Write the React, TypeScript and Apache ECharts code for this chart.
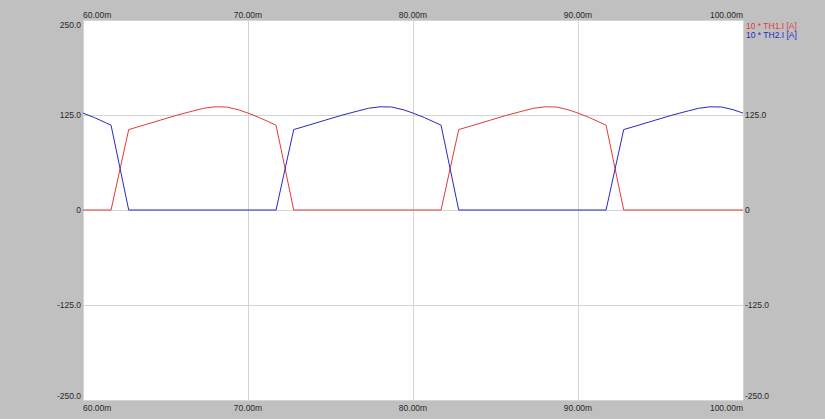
import React, { useEffect, useRef } from "react";
import * as echarts from "echarts";

// Time axis (ms) and tick range
const xTicks = [60, 70, 80, 90, 100];
const yTicks = [-250, -125, 0, 125, 250];

// 10 * TH1.I [A]
const timeTH1 = [
  60, 61.7, 62.77, 63.7, 64.7, 65.7, 66.7, 67.3, 68.0, 68.7, 69.4, 70.0, 70.7, 71.7, 72.77,
  81.7, 82.77, 83.7, 84.7, 85.7, 86.7, 87.3, 88.0, 88.7, 89.4, 90.0, 90.7, 91.7, 92.77, 100,
];
const valTH1 = [
  0, 0, 105.8, 111.8, 118.3, 124.8, 130.5, 133.8, 135.8, 135.5, 132.0, 127.5, 121.5, 111.6, 0,
  0, 105.8, 111.8, 118.3, 124.8, 130.5, 133.8, 135.8, 135.5, 132.0, 127.5, 121.5, 111.6, 0, 0,
];

// 10 * TH2.I [A]
const timeTH2 = [
  60, 60.7, 61.7, 62.77,
  71.7, 72.77, 73.7, 74.7, 75.7, 76.7, 77.3, 78.0, 78.7, 79.4, 80.0, 80.7, 81.7, 82.77,
  91.7, 92.77, 93.7, 94.7, 95.7, 96.7, 97.3, 98.0, 98.7, 99.4, 100,
];
const valTH2 = [
  127.5, 121.5, 111.6, 0,
  0, 105.8, 111.8, 118.3, 124.8, 130.5, 133.8, 135.8, 135.5, 132.0, 127.5, 121.5, 111.6, 0,
  0, 105.8, 111.8, 118.3, 124.8, 130.5, 133.8, 135.8, 135.5, 132.0, 127.5,
];

const seriesNames = ["10 * TH1.I [A]", "10 * TH2.I [A]"];
const seriesColors = ["#e23a3a", "#2828c8"];

const FONT = "'Liberation Sans', Arial, sans-serif";
const FS = 8.5;
const LABEL_COLOR = "#2a2a2a";

export default function App() {
  const ref = useRef<HTMLDivElement>(null);

  useEffect(() => {
    if (!ref.current) return;
    const chart = echarts.init(ref.current, undefined, { renderer: "svg" });

    const xMin = xTicks[0];
    const xMax = xTicks[xTicks.length - 1];
    const yMin = yTicks[0];
    const yMax = yTicks[yTicks.length - 1];

    const xFmt = (v: number) => v.toFixed(2) + "m";
    const yFmt = (v: number) => (v === 0 ? "0" : v.toFixed(1));

    const baseX = {
      type: "value" as const,
      min: xMin,
      max: xMax,
      interval: 10,
      axisLine: { show: false },
      axisTick: { show: false },
    };
    const baseY = {
      type: "value" as const,
      min: yMin,
      max: yMax,
      interval: 125,
      axisLine: { show: false },
      axisTick: { show: false },
    };

    chart.setOption({
      animation: false,
      backgroundColor: "#c0c0c0",
      grid: {
        left: 83,
        right: 82,
        top: 20,
        bottom: 19,
        show: true,
        backgroundColor: "#ffffff",
        borderWidth: 0,
      },
      xAxis: [
        {
          ...baseX,
          position: "bottom",
          splitLine: { show: true, lineStyle: { color: "#d4d4d4", width: 1 } },
          axisLabel: {
            formatter: xFmt,
            fontSize: FS,
            fontFamily: FONT,
            color: LABEL_COLOR,
            margin: 3,
            alignMinLabel: "left",
            alignMaxLabel: "right",
          },
        },
        {
          ...baseX,
          position: "top",
          splitLine: { show: false },
          axisLabel: {
            formatter: xFmt,
            fontSize: FS,
            fontFamily: FONT,
            color: LABEL_COLOR,
            margin: 1,
            alignMinLabel: "left",
            alignMaxLabel: "right",
          },
        },
      ],
      yAxis: [
        {
          ...baseY,
          position: "left",
          splitLine: { show: true, lineStyle: { color: "#d4d4d4", width: 1 } },
          axisLabel: {
            formatter: yFmt,
            fontSize: FS,
            fontFamily: FONT,
            color: LABEL_COLOR,
            margin: 2,
            verticalAlignMinLabel: "bottom",
            verticalAlignMaxLabel: "top",
          },
        },
        {
          ...baseY,
          position: "right",
          splitLine: { show: false },
          axisLabel: {
            formatter: yFmt,
            fontSize: FS,
            fontFamily: FONT,
            color: LABEL_COLOR,
            margin: 2,
            showMaxLabel: false,
            verticalAlignMinLabel: "bottom",
          },
        },
      ],
      graphic: seriesNames.map((name, i) => ({
        type: "text",
        x: 746,
        y: 26 + i * 9,
        style: {
          text: name,
          fill: seriesColors[i],
          fontSize: FS,
          fontFamily: FONT,
          verticalAlign: "middle",
          align: "left",
        },
      })),
      series: [
        {
          name: seriesNames[0],
          type: "line",
          xAxisIndex: 0,
          yAxisIndex: 0,
          showSymbol: false,
          symbol: "none",
          lineStyle: { color: seriesColors[0], width: 1 },
          itemStyle: { color: seriesColors[0] },
          data: timeTH1.map((t, i) => [t, valTH1[i]]),
        },
        {
          name: seriesNames[1],
          type: "line",
          xAxisIndex: 0,
          yAxisIndex: 0,
          showSymbol: false,
          symbol: "none",
          lineStyle: { color: seriesColors[1], width: 1 },
          itemStyle: { color: seriesColors[1] },
          data: timeTH2.map((t, i) => [t, valTH2[i]]),
        },
      ],
    });

    return () => chart.dispose();
  }, []);

  return (
    <div
      ref={ref}
      style={{ position: "absolute", left: 0, top: 0, width: 825, height: 419 }}
    />
  );
}
